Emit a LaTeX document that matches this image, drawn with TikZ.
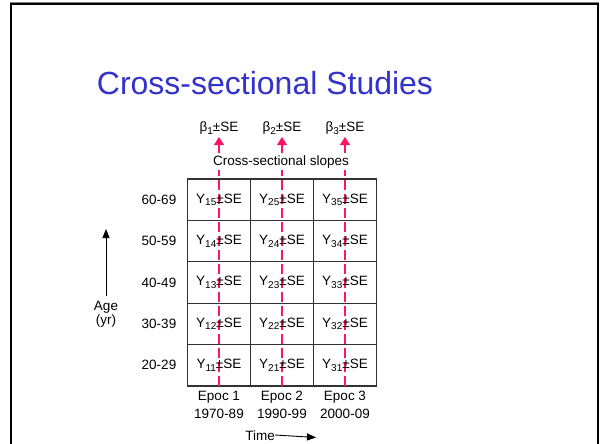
\documentclass[tikz,border=0pt]{standalone}
\usepackage{fontspec}
\setmainfont{Liberation Sans}
\usetikzlibrary{arrows.meta}
\definecolor{titleblue}{RGB}{51,51,204}
\definecolor{slopered}{RGB}{255,20,100}
\definecolor{gridgray}{RGB}{50,50,50}
\newcommand\sbs[1]{\raisebox{-0.35ex}{\fontsize{10}{11}\selectfont #1}}
\tikzset{
  txt/.style={font=\fontsize{13.5}{15}\selectfont, inner sep=0pt},
  cell/.style={draw=gridgray, line width=1.1pt, minimum width=63pt, minimum height=41.4pt, inner sep=0pt},
  redline/.style={draw=slopered, line width=1.2pt, dash pattern=on 10pt off 4pt},
  redarrow/.style={draw=slopered, line width=1.2pt, -{Triangle[width=10pt,length=8pt]}, slopered},
  blackarrow/.style={draw=black, line width=0.9pt, -{Triangle[width=7pt,length=9pt]}}
}
\begin{document}
\begin{tikzpicture}[x=1pt,y=-1pt]
\useasboundingbox (0,0) rectangle (600,444);
\fill[white] (0,0) rectangle (600,444);
\draw[line width=1pt, gray] (10,3) -- (599,3);
\draw[line width=2pt, black] (11,4.5) -- (598,4.5);
\draw[line width=2pt, black] (11,3.5) -- (11,450);
\draw[line width=2pt, black] (598,3.5) -- (598,450);
\node[text=titleblue, font=\fontsize{32}{36}\selectfont, inner sep=0pt] (title) at (265,83) {Cross-sectional Studies};
% cells
\foreach \i/\x in {1/219,2/282,3/345}{
  \foreach \j in {1,...,5}{
    \node[cell] (c\i\j) at (\x,{386-(\j-0.5)*41.4}) {};
  }
  \coordinate (s\i) at (\x,170);
  \coordinate (t\i) at (\x,153);
  \coordinate (b\i) at (\x,386);
  \coordinate (a\i) at (\x,137);
}
% red slope lines
\foreach \i in {1,2,3}{
  \draw[redline] (b\i) -- (s\i);
  \draw[redarrow] (t\i) -- (a\i);
}
% cell texts
\foreach \i in {1,2,3}{
  \foreach \j in {1,...,5}{
    \node[txt] (y\i\j) at (c\i\j) {Y\sbs{\i\j}±SE};
  }
}
\foreach \j/\lab in {1/20-29,2/30-39,3/40-49,4/50-59,5/60-69}{
  \node[txt] (age\j) at (159,{386-(\j-0.5)*41.4}) {\lab};
}
% top labels
\node[txt] (slopes) at (281,162.5) {Cross-sectional slopes};
\foreach \i in {1,2,3}{
  \node[txt, anchor=south] (beta\i) at ([yshift=2pt]a\i) {β\sbs{\i}±SE};
}
% epochs
\foreach \i/\yr in {1/1970-89,2/1990-99,3/2000-09}{
  \node[txt] (ep\i) at ([yshift=-11pt]c\i1.south) {Epoc \i};
  \node[txt] (yr\i) at ([yshift=-27pt]c\i1.south) {\yr};
}
% age axis
\node[txt] (agelab) at (106,307.5) {Age};
\node[txt] (yrlab) at (106,321) {(yr)};
\coordinate (agebot) at (106,296);
\coordinate (agetop) at (106,229);
\draw[blackarrow] (agebot) -- (agetop);
% time axis
\node[txt, anchor=east] (timelab) at (275,436) {Time};
\coordinate (timeend) at (316,437.5);
\draw[blackarrow] ([yshift=1pt]timelab.east) -- (timeend);
\end{tikzpicture}
\end{document}
